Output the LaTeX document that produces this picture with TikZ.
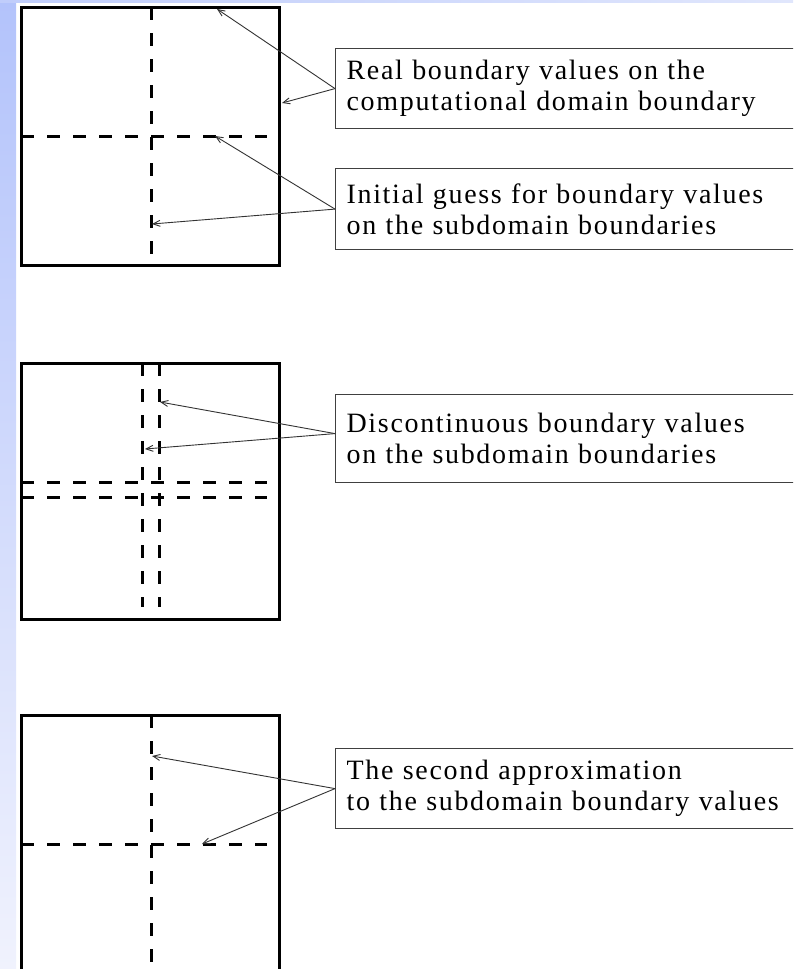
\documentclass[tikz,border=0pt]{standalone}
\usepackage{fontspec}
\setmainfont{Liberation Serif}
\usetikzlibrary{arrows.meta}
\begin{document}
\begin{tikzpicture}[x=1pt,y=-1pt,
  domainbox/.style={line width=3pt,line join=miter},
  cutline/.style={line width=3pt,dash pattern=on 13pt off 13pt},
  labelbox/.style={draw=black!75,line width=1.2pt,fill=white,anchor=north west,
    minimum width=470pt,text width=448pt,inner xsep=11pt,inner ysep=0pt,align=left,
    font=\fontsize{28}{31}\selectfont\addfontfeature{LetterSpace=6}},
  pointer/.style={draw=black!80,line width=0.9pt,-{Straight Barb[length=7pt,width=6pt]}}]
\useasboundingbox (0,0) rectangle (793,969);
\clip (0,0) rectangle (793,969);
\fill[white] (0,0) rectangle (793,969);
\shade[top color={rgb,255:red,179;green,195;blue,251},bottom color={rgb,255:red,240;green,242;blue,253}] (0,0) rectangle (16,969);
\shade[left color={rgb,255:red,192;green,205;blue,251},right color={rgb,255:red,224;green,230;blue,252}] (0,0) rectangle (793,2.5);

% ---- domain 1 ----
\draw[cutline] (151,7) -- (151,265);
\draw[cutline] (21,136) -- (267,136);
\draw[domainbox] (21,7) rectangle (279,265);
\coordinate (t1a) at (217,9);
\coordinate (t1b) at (282,103);
\coordinate (t2a) at (215,136);
\coordinate (t2b) at (152,224);

% ---- domain 2 ----
\draw[cutline] (142,363) -- (142,607);
\draw[cutline] (159,363) -- (159,607);
\draw[cutline] (21,482) -- (267,482);
\draw[cutline] (21,497) -- (267,497);
\draw[domainbox] (21,363) rectangle (279,619);
\coordinate (t3a) at (160,402);
\coordinate (t3b) at (145,449);

% ---- domain 3 ----
\draw[cutline] (151,715) -- (151,975);
\draw[cutline] (21,844) -- (267,844);
\draw[domainbox] (21,980) -- (21,715) -- (279,715) -- (279,980);
\coordinate (t4a) at (152,756);
\coordinate (t4b) at (202,844);

% ---- labels ----
\node[labelbox,minimum height=80pt] (l1) at (335,48) {Real boundary values on the\\computational domain boundary};
\node[labelbox,minimum height=81pt] (l2) at (335,168) {Initial guess for boundary values\\on the subdomain boundaries};
\node[labelbox,minimum height=88pt] (l3) at (335,394) {Discontinuous boundary values\\on the subdomain boundaries};
\node[labelbox,minimum height=80pt] (l4) at (335,748) {The second approximation\\to the subdomain boundary values};

\draw[pointer] (l1.west) -- (t1a);
\draw[pointer] (l1.west) -- (t1b);
\draw[pointer] (l2.west) -- (t2a);
\draw[pointer] (l2.west) -- (t2b);
\draw[pointer] ([yshift=5pt]l3.west) -- (t3a);
\draw[pointer] ([yshift=5pt]l3.west) -- (t3b);
\draw[pointer] (l4.west) -- (t4a);
\draw[pointer] (l4.west) -- (t4b);
\end{tikzpicture}
\end{document}
